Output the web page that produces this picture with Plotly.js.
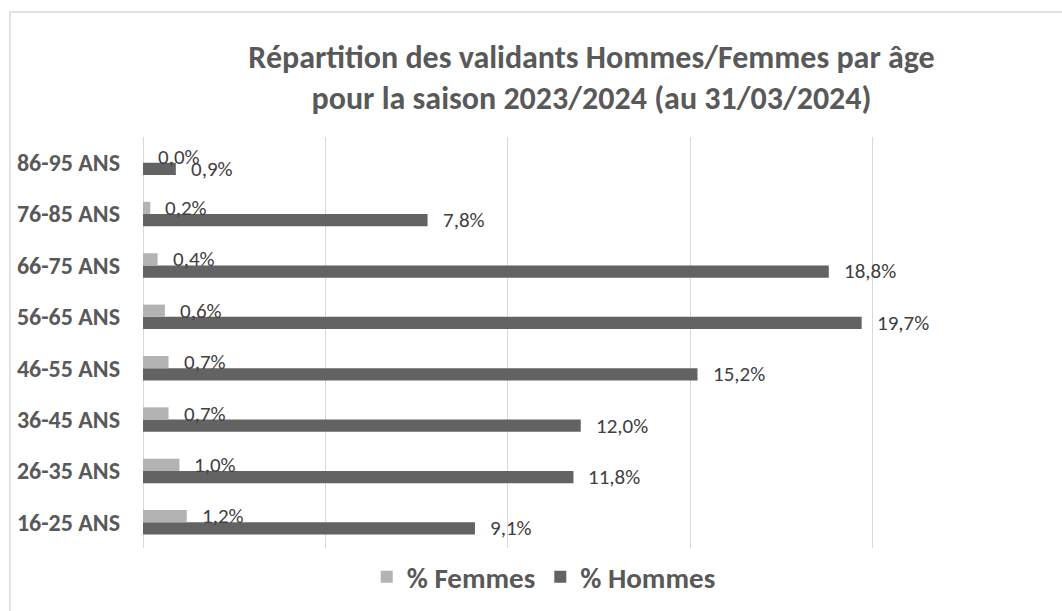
<!DOCTYPE html>
<html>
<head>
<meta charset="utf-8">
<script src="https://cdn.plot.ly/plotly-3.0.1.min.js"></script>
<style>html,body{margin:0;padding:0;background:#fff;}#chart{width:1062px;height:611px;}</style>
</head>
<body>
<div id="chart"></div>
<script>
const categories = ['16-25 ANS','26-35 ANS','36-45 ANS','46-55 ANS','56-65 ANS','66-75 ANS','76-85 ANS','86-95 ANS'];
const femmes = [1.2, 1.0, 0.7, 0.7, 0.6, 0.4, 0.2, 0.0];
const hommes = [9.1, 11.8, 12.0, 15.2, 19.7, 18.8, 7.8, 0.9];
const femmesLabels = ['1,2%','1,0%','0,7%','0,7%','0,6%','0,4%','0,2%','0,0%'];
const hommesLabels = ['9,1%','11,8%','12,0%','15,2%','19,7%','18,8%','7,8%','0,9%'];

const FONT = 'Carlito, Lato, sans-serif';

const traces = [
  {type:'bar', orientation:'h', name:'% Hommes', y:categories, x:hommes,
   marker:{color:'#636363'}, legendrank:2, hoverinfo:'none'},
  {type:'bar', orientation:'h', name:'% Femmes', y:categories, x:femmes,
   marker:{color:'#b3b3b3'}, legendrank:1, hoverinfo:'none'}
];

const annotations = [];
categories.forEach((c,i)=>{
  annotations.push({x:femmes[i], y:c, xref:'x', yref:'y', text:femmesLabels[i], showarrow:false,
    xanchor:'left', yanchor:'middle', xshift:13, yshift:6, font:{family:FONT, size:21, color:'#404040'}});
  annotations.push({x:hommes[i], y:c, xref:'x', yref:'y', text:hommesLabels[i], showarrow:false,
    xanchor:'left', yanchor:'middle', xshift:13, yshift:-6, font:{family:FONT, size:21, color:'#404040'}});
});

const layout = {
  width:1062, height:611,
  margin:{l:143, r:7, t:137, b:63},
  paper_bgcolor:'#ffffff', plot_bgcolor:'#ffffff',
  barmode:'group', bargap:0.525, bargroupgap:0,
  title:{text:'<b>Répartition des validants Hommes/Femmes par âge<br>pour la saison 2023/2024 (au 31/03/2024)</b>',
    font:{family:FONT, size:32, color:'#595959'}, x:0.557, xanchor:'center', y:0.889, yanchor:'middle', yref:'container'},
  xaxis:{range:[0,25], dtick:5, tick0:0, showgrid:true, gridcolor:'#d9d9d9', gridwidth:1,
    zeroline:true, zerolinecolor:'#d9d9d9', zerolinewidth:1, showticklabels:false, ticks:'', showline:false, fixedrange:true},
  yaxis:{type:'category', showgrid:false, zeroline:false, showline:false, ticks:'', ticklabelstandoff:22,
    tickfont:{family:FONT, size:24, color:'#595959', weight:'bold'}, fixedrange:true},
  showlegend:true,
  legend:{orientation:'h', xref:'container', yref:'container', x:0.512, xanchor:'center', y:0.056, yanchor:'middle',
    font:{family:FONT, size:29, color:'#595959', weight:'bold'}, itemclick:false, itemdoubleclick:false},
  annotations:annotations,
  shapes:[{type:'rect', xref:'paper', yref:'paper', x0:-0.1458, x1:1.2, y0:-0.3, y1:1.304,
    line:{color:'#d9d9d9', width:1.5}, fillcolor:'rgba(0,0,0,0)', layer:'below'}]
};

Plotly.newPlot('chart', traces, layout, {displayModeBar:false, staticPlot:true});
</script>
</body>
</html>
